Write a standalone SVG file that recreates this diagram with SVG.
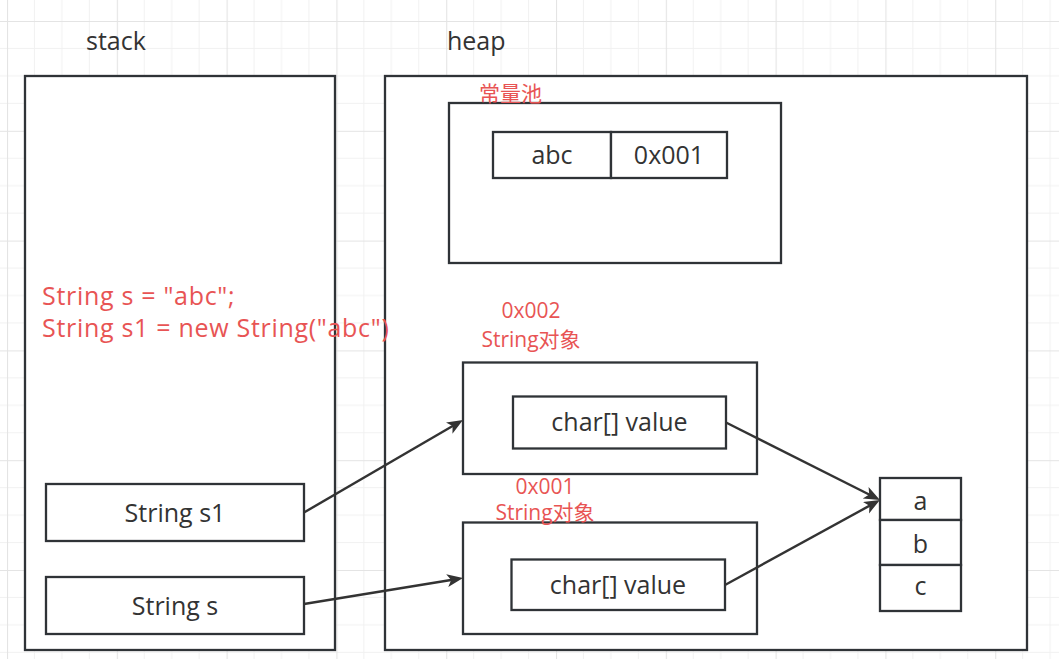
<svg xmlns="http://www.w3.org/2000/svg" width="1059" height="659" viewBox="0 0 1059 659">
<defs>
<pattern id="grid" patternUnits="userSpaceOnUse" x="7" y="21" width="109.8" height="109.8">
<path d="M27.45 0V109.8M54.9 0V109.8M82.35 0V109.8M0 27.45H109.8M0 54.9H109.8M0 82.35H109.8" stroke="#f1f1f1" stroke-width="1" fill="none"/>
<path d="M0.5 0V109.8M0 0.5H109.8" stroke="#e4e4e4" stroke-width="1.2" fill="none"/>
</pattern>
<marker id="arr" markerUnits="userSpaceOnUse" markerWidth="18" markerHeight="14" refX="10" refY="6.5" orient="auto" viewBox="0 0 18 14">
<path d="M0,0 L16,6.5 L0,13 L4,6.5 Z" fill="#333333"/>
</marker>
<style>
.box{fill:#ffffff;stroke:#2f3337;stroke-width:2.3}
.lbl{font-family:"Open Sans","Noto Sans","Noto Sans CJK SC",sans-serif;font-size:25px;fill:#333333}
.mid{text-anchor:middle}
.red{font-family:"Open Sans","Noto Sans","Noto Sans CJK SC",sans-serif;fill:#e85454}
.code{font-size:25px;letter-spacing:0.7px}
.con{stroke:#333333;stroke-width:2.4;fill:none;marker-end:url(#arr)}
</style>
</defs>
<rect x="0" y="0" width="1059" height="659" fill="#ffffff"/>
<rect x="0" y="0" width="1059" height="659" fill="url(#grid)"/>

<g id="stack">
<rect class="box" x="25" y="76" width="310" height="574"/>
<text class="lbl" x="86" y="50">stack</text>
</g>
<g id="heap">
<rect class="box" x="385" y="76" width="642" height="574"/>
<text class="lbl" x="447" y="50">heap</text>
</g>
<g id="pool">
<rect class="box" x="449" y="103" width="332" height="160"/>
<text class="red" x="479" y="101" font-size="21">常量池</text>
</g>
<g id="pool-abc">
<rect class="box" x="493" y="132" width="118" height="46"/>
<text class="lbl mid" x="552" y="164">abc</text>
</g>
<g id="pool-addr">
<rect class="box" x="611" y="132" width="116" height="46"/>
<text class="lbl mid" x="669" y="164">0x001</text>
</g>
<g id="obj2">
<rect class="box" x="463" y="362.5" width="294" height="111.5"/>
<text class="red mid" x="531" y="318" font-size="21">0x002</text>
<text class="red mid" x="531" y="347" font-size="21">String对象</text>
</g>
<g id="obj2-value">
<rect class="box" x="513" y="396.5" width="213" height="52"/>
<text class="lbl mid" x="619.5" y="431">char[] value</text>
</g>
<g id="obj1">
<rect class="box" x="463" y="522.5" width="294" height="111.5"/>
<text class="red mid" x="545" y="494" font-size="21">0x001</text>
<text class="red mid" x="545" y="520" font-size="21">String对象</text>
</g>
<g id="obj1-value">
<rect class="box" x="511.5" y="559.5" width="213.5" height="50.5"/>
<text class="lbl mid" x="618" y="593.5">char[] value</text>
</g>
<g id="array">
<rect class="box" x="880" y="478" width="81" height="42"/>
<text class="lbl mid" x="920.5" y="510">a</text>
<rect class="box" x="880" y="520" width="81" height="45"/>
<text class="lbl mid" x="920.5" y="553">b</text>
<rect class="box" x="880" y="565" width="81" height="46"/>
<text class="lbl mid" x="920.5" y="595">c</text>
</g>
<g id="s1">
<rect class="box" x="46" y="484" width="258" height="57"/>
<text class="lbl mid" x="175" y="522">String s1</text>
</g>
<g id="s">
<rect class="box" x="46" y="577" width="258" height="57"/>
<text class="lbl mid" x="175" y="614.5">String s</text>
</g>
<g id="code">
<text class="red code" x="42" y="305">String s = "abc";</text>
<text class="red code" x="42" y="337">String s1 = new String("abc")</text>
</g>

<g id="connectors">
<line class="con" x1="304" y1="512.5" x2="457.8" y2="423"/>
<line class="con" x1="304" y1="604" x2="457.1" y2="579"/>
<line class="con" x1="726" y1="422.5" x2="874.6" y2="497.3"/>
<line class="con" x1="725" y1="585" x2="874.7" y2="502.9"/>
</g>
</svg>
